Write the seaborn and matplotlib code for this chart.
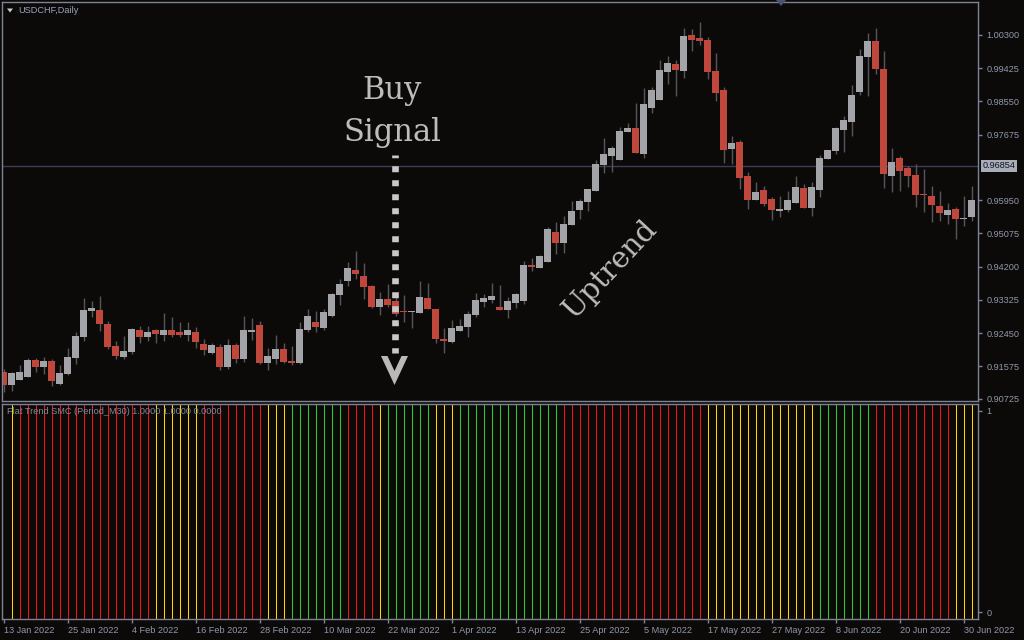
import numpy as np
import pandas as pd
import matplotlib
matplotlib.use("Agg")
import matplotlib.pyplot as plt
import seaborn as sns
from matplotlib.lines import Line2D
from matplotlib.patches import Polygon
import matplotlib.transforms as mtransforms

# ---------------- data ----------------
opens = [0.91427, 0.91085, 0.91217, 0.91296, 0.91743, 0.91559, 0.91717, 0.91112, 0.91375, 0.91796,
         0.92349, 0.93033, 0.93060, 0.92691, 0.92112, 0.91822, 0.91954, 0.92533, 0.92349, 0.92533,
         0.92401, 0.92533, 0.92480, 0.92401, 0.92480, 0.92164, 0.91928, 0.92086, 0.91559, 0.92138,
         0.91770, 0.92480, 0.92665, 0.91664, 0.91770, 0.92033, 0.91717, 0.91664, 0.92533, 0.92744,
         0.92586, 0.92902, 0.93455, 0.93824, 0.94113, 0.93956, 0.93692, 0.93139, 0.93350, 0.93297,
         0.93033, 0.93007, 0.92981, 0.93376, 0.93086, 0.92296, 0.92217, 0.92507, 0.92612, 0.92928,
         0.93270, 0.93323, 0.93139, 0.93060, 0.93244, 0.93297, 0.94245, 0.94166, 0.94324, 0.95114,
         0.94824, 0.95298, 0.95693, 0.95903, 0.96193, 0.96877, 0.97114, 0.97009, 0.97746, 0.97851,
         0.97167, 0.98377, 0.98588, 0.99326, 0.99536, 0.99352, 1.00300, 1.00221, 1.00168, 0.99352,
         0.98852, 0.97299, 0.97482, 0.96588, 0.95956, 0.96219, 0.95982, 0.95667, 0.95693, 0.95877,
         0.96272, 0.95745, 0.96219, 0.97035, 0.97246, 0.97799, 0.98009, 0.98799, 0.99720, 1.00142,
         0.99405, 0.96588, 0.97061, 0.96798, 0.96614, 0.96114, 0.96061, 0.95798, 0.95561, 0.95719,
         0.95456, 0.95509]
highs = [0.91506, 0.91427, 0.91612, 0.91796, 0.91796, 0.91822, 0.91770, 0.91612, 0.92059, 0.92480,
         0.93376, 0.93297, 0.93428, 0.92770, 0.92243, 0.92375, 0.92586, 0.92638, 0.92638, 0.92559,
         0.92981, 0.92875, 0.92744, 0.92744, 0.92612, 0.92296, 0.92191, 0.92164, 0.92296, 0.92191,
         0.92902, 0.92849, 0.92770, 0.92059, 0.92401, 0.92191, 0.92112, 0.92744, 0.93086, 0.93033,
         0.93086, 0.93508, 0.93877, 0.94324, 0.94614, 0.94298, 0.93719, 0.93534, 0.93745, 0.93402,
         0.93455, 0.93040, 0.93824, 0.93771, 0.93090, 0.92586, 0.92796, 0.92823, 0.93033, 0.93508,
         0.93481, 0.93771, 0.93719, 0.93402, 0.93508, 0.94350, 0.94429, 0.94508, 0.95245, 0.95377,
         0.95535, 0.95930, 0.95982, 0.96250, 0.97009, 0.97588, 0.97377, 0.97878, 0.97983, 0.98509,
         0.98904, 0.98931, 0.99641, 0.99747, 0.99641, 1.00484, 1.00458, 1.00642, 1.00247, 0.99826,
         0.98931, 0.97640, 0.97535, 0.96693, 0.96430, 0.96325, 0.96035, 0.96061, 0.96193, 0.96588,
         0.96377, 0.96430, 0.97141, 0.97280, 0.97878, 0.98167, 0.98983, 0.99931, 1.00353, 1.00484,
         0.99879, 0.97325, 0.97114, 0.96851, 0.96903, 0.96772, 0.96325, 0.96193, 0.95877, 0.95772,
         0.96061, 0.96325]
lows = [0.90901, 0.90928, 0.91210, 0.91290, 0.91427, 0.91375, 0.91059, 0.91085, 0.91349, 0.91638,
        0.92243, 0.92875, 0.92507, 0.92033, 0.91770, 0.91770, 0.91901, 0.92191, 0.92243, 0.92191,
        0.92243, 0.92349, 0.92349, 0.92243, 0.92059, 0.91875, 0.91901, 0.91480, 0.91506, 0.91664,
        0.91691, 0.92270, 0.91638, 0.91480, 0.91638, 0.91664, 0.91612, 0.91638, 0.92480, 0.92480,
        0.92533, 0.92875, 0.93191, 0.93692, 0.93877, 0.93350, 0.93112, 0.92928, 0.93139, 0.92902,
        0.92744, 0.92586, 0.92975, 0.93080, 0.92191, 0.91928, 0.92191, 0.92500, 0.92349, 0.92875,
        0.93139, 0.93244, 0.93055, 0.92849, 0.93112, 0.93218, 0.94087, 0.94160, 0.94318, 0.94535,
        0.94561, 0.95290, 0.95456, 0.95667, 0.96190, 0.96667, 0.96693, 0.97000, 0.97740, 0.97185,
        0.97062, 0.98246, 0.98580, 0.98999, 0.98694, 0.99168, 0.99879, 1.00036, 0.99141, 0.98562,
        0.96930, 0.96903, 0.96245, 0.95719, 0.95950, 0.95798, 0.95430, 0.95509, 0.95640, 0.95870,
        0.95740, 0.95535, 0.96035, 0.97030, 0.97167, 0.97219, 0.97640, 0.98720, 0.98694, 0.99273,
        0.96272, 0.96167, 0.96193, 0.96298, 0.95772, 0.95640, 0.95377, 0.95403, 0.95324, 0.94929,
        0.95272, 0.95403]
closes = [0.91085, 0.91401, 0.91427, 0.91743, 0.91559, 0.91717, 0.91191, 0.91401, 0.91822, 0.92375,
          0.93060, 0.93112, 0.92691, 0.92086, 0.91849, 0.91980, 0.92559, 0.92349, 0.92480, 0.92428,
          0.92533, 0.92401, 0.92401, 0.92533, 0.92217, 0.92007, 0.92138, 0.91559, 0.92138, 0.91770,
          0.92533, 0.92533, 0.91664, 0.91849, 0.92033, 0.91691, 0.91664, 0.92559, 0.92902, 0.92612,
          0.93007, 0.93481, 0.93745, 0.94166, 0.94008, 0.93666, 0.93139, 0.93350, 0.93191, 0.92954,
          0.93007, 0.93033, 0.93402, 0.93086, 0.92296, 0.92243, 0.92586, 0.92638, 0.92954, 0.93323,
          0.93376, 0.93428, 0.93060, 0.93297, 0.93481, 0.94245, 0.94192, 0.94482, 0.95193, 0.94824,
          0.95324, 0.95667, 0.95930, 0.96245, 0.96903, 0.97167, 0.97325, 0.97772, 0.97851, 0.97193,
          0.98483, 0.98852, 0.99378, 0.99562, 0.99378, 1.00274, 1.00168, 1.00142, 0.99326, 0.98773,
          0.97272, 0.97456, 0.96535, 0.95956, 0.96167, 0.95851, 0.95693, 0.95719, 0.95956, 0.96298,
          0.95745, 0.96298, 0.97061, 0.97272, 0.97851, 0.98062, 0.98720, 0.99747, 1.00142, 0.99405,
          0.96640, 0.96956, 0.96719, 0.96588, 0.96088, 0.96088, 0.95824, 0.95614, 0.95693, 0.95456,
          0.95482, 0.95956]

# Flat Trend indicator state for bars 1..121 (R=down, Y=flat, G=up)
trend_states = ("Y RRRRRRRRRRRRRRRRR YYYYYY RRRRRRRR YYY GGGGGGG RRRR Y GGGGGG YYY "
                "GGGGGGGGGGGGG RRRRRRRRRRRRRRRRRR YYYYYYYYYYYYYY GGGGGGG RRRRRRRRRR YYY")

date_labels = ["13 Jan 2022", "25 Jan 2022", "4 Feb 2022", "16 Feb 2022", "28 Feb 2022",
               "10 Mar 2022", "22 Mar 2022", "1 Apr 2022", "13 Apr 2022", "25 Apr 2022",
               "5 May 2022", "17 May 2022", "27 May 2022", "8 Jun 2022", "20 Jun 2022",
               "30 Jun 2022"]
date_tick_bars = [0, 8, 16, 24, 32, 40, 48, 56, 64, 72, 80, 88, 96, 104, 112, 120]
price_ticks = [1.00300, 0.99425, 0.98550, 0.97675, 0.95950, 0.95075, 0.94200,
               0.93325, 0.92450, 0.91575, 0.90725]
current_price = 0.96854

# ---------------- style ----------------
BG = "#0c0a08"
FRAME = "#7d8395"
LABEL = "#8f98ac"
UP = "#a3a4a8"
DOWN = "#c0473b"
WICK = "#56565a"
STATE_COLORS = {"R": "#f01010", "Y": "#ffd500", "G": "#2ecc2e"}

sns.set_theme(style="dark", rc={"axes.facecolor": BG, "figure.facecolor": BG})
plt.rcParams["font.family"] = ["Liberation Sans", "DejaVu Sans"]

df = pd.DataFrame({"open": opens, "high": highs, "low": lows, "close": closes})
df["bar"] = np.arange(len(df))
df["up"] = df["close"] >= df["open"]
df["body_lo"] = df[["open", "close"]].min(axis=1)
df["body_h"] = (df["close"] - df["open"]).abs().clip(lower=0.00027)

states = list(trend_states.replace(" ", ""))
ind = pd.DataFrame({"bar": np.arange(1, 1 + len(states)), "state": states})

W, H = 1024, 640
fig = plt.figure(figsize=(W / 100, H / 100), dpi=100)
fig.patch.set_facecolor(BG)

def fx(px):
    return px / W

def fy(py):
    return 1 - py / H

L, R = 2.3, 978.3
ax = fig.add_axes([fx(L), fy(401), fx(R - L), (401 - 2.3) / H])
ax2 = fig.add_axes([fx(L), fy(619.3), fx(R - L), (619.3 - 403.5) / H])

xlim = ((L - 3.5) / 8, (R - 3.5) / 8)
p_of = lambda py: 1.01221 - 0.00026327 * py

for a in (ax, ax2):
    a.set_facecolor(BG)
    a.set_xlim(*xlim)
    for s in a.spines.values():
        s.set_visible(True)
        s.set_color(FRAME)
        s.set_linewidth(1.0)
    a.grid(False)

# ---- candles ----
ax.vlines(df["bar"], df["low"], df["high"], color=WICK, lw=1.0, zorder=1)
ax.bar(df["bar"], df["body_h"], bottom=df["body_lo"], width=0.85,
       color=np.where(df["up"], UP, DOWN), linewidth=0, zorder=2)
ax.set_ylim(p_of(401), p_of(2.3))
ax.axhline(current_price, color="#3d3b58", lw=1.0, zorder=0.5)

ax.yaxis.tick_right()
ax.set_yticks(price_ticks)
ax.set_yticklabels([f"{v:.5f}" for v in price_ticks])
ax.tick_params(axis="y", right=True, length=3, width=1, color=FRAME, labelcolor=LABEL,
               labelsize=6.6, pad=3)
ax.set_xticks([])

trans = mtransforms.blended_transform_factory(ax.transAxes, ax.transData)
ax.text(1.0045, current_price, f"{current_price:.5f}", transform=trans, ha="left", va="center",
        fontsize=6.6, color="#14141c", clip_on=False,
        bbox=dict(boxstyle="square,pad=0.18", facecolor="#a7adb9", edgecolor="none"))

# ---- indicator pane ----
ax2.set_ylim(0, 1)
ax2.vlines(ind["bar"], 0, 1, colors=[STATE_COLORS[s] for s in ind["state"]], lw=0.75)
ax2.yaxis.tick_right()
ax2.set_yticks([0.032, 0.967])
ax2.set_yticklabels(["0", "1"])
ax2.tick_params(axis="y", right=True, length=3, width=1, color=FRAME, labelcolor=LABEL,
                labelsize=6.6, pad=3)
ax2.set_xticks(date_tick_bars)
ax2.set_xticklabels(date_labels, ha="left")
ax2.tick_params(axis="x", bottom=True, length=3, width=1, color=FRAME, labelcolor=LABEL,
                labelsize=6.6, pad=2)

# ---- texts ----
fig.text(fx(18), fy(10.5), "USDCHF,Daily", fontsize=6.6, color="#9aa4bc", va="center", ha="left")
fig.add_artist(Polygon([(fx(7), fy(8.5)), (fx(13), fy(8.5)), (fx(10), fy(12.5))],
                       closed=True, transform=fig.transFigure, facecolor="#c8cbd4",
                       edgecolor="none"))
fig.add_artist(Polygon([(fx(776), fy(0)), (fx(786), fy(0)), (fx(781), fy(6))],
                       closed=True, transform=fig.transFigure, facecolor="#4b5275",
                       edgecolor="none"))
fig.text(fx(7), fy(411.5), "Flat Trend SMC (Period_M30) 1.0000 1.0000 0.0000", fontsize=6.6,
         color="#7f889d", va="center", ha="left", zorder=5)

serif = ["DejaVu Serif"]
ann_color = "#bdbdbd"
fig.text(fx(392), fy(90), "Buy", fontsize=22, family=serif, color=ann_color,
         ha="center", va="center")
fig.text(fx(392), fy(132), "Signal", fontsize=22, family=serif, color=ann_color,
         ha="center", va="center")
fig.text(fx(610), fy(269), "Uptrend", fontsize=21, family=serif, color=ann_color,
         ha="center", va="center", rotation=47, rotation_mode="anchor")

# dotted arrow
fig.add_artist(Line2D([fx(394.5), fx(394.5)], [fy(155), fy(353.3)], transform=fig.transFigure,
                      color="#c8c8c8", lw=4.8, linestyle=(0.49, (0.9, 1.2)),
                      solid_capstyle="butt", dash_capstyle="butt"))
fig.add_artist(Polygon([(fx(381), fy(356)), (fx(394.5), fy(385)), (fx(408), fy(356)),
                        (fx(401.5), fy(356)), (fx(394.5), fy(371)), (fx(387.5), fy(356))],
                       closed=True, transform=fig.transFigure, facecolor="#b9b9b9",
                       edgecolor="none"))

fig.savefig("out.png", dpi=100, facecolor=BG)
